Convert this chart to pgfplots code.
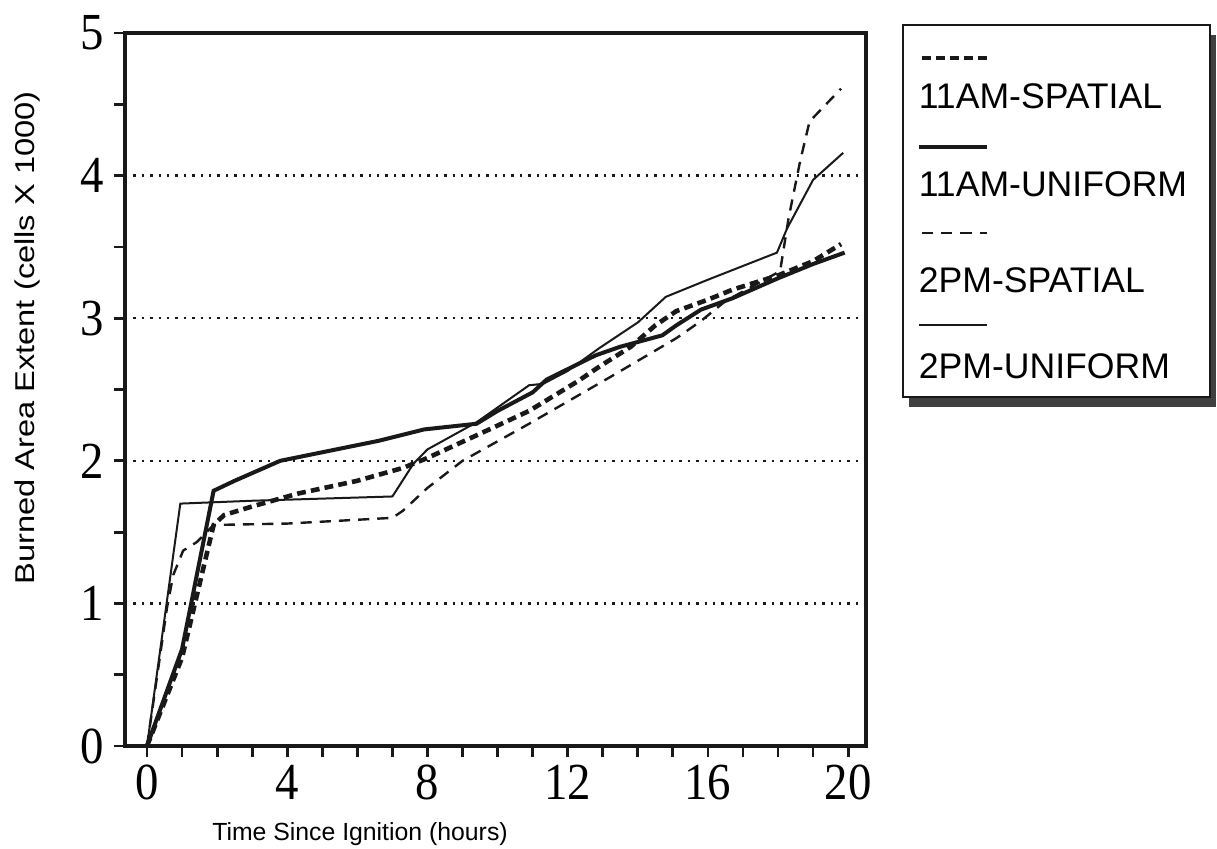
\documentclass[border=0pt]{standalone}
\usepackage{fontspec}
\usepackage{pgfplots}
\pgfplotsset{compat=1.18}
\setmainfont{Liberation Serif}
\newfontfamily\tickfont[FakeStretch=0.9]{Liberation Serif}
\newfontfamily\arial{Liberation Sans}
\newfontfamily\ylabfont[FakeStretch=1.2]{Liberation Sans}

\begin{document}
\begin{tikzpicture}
\begin{axis}[
    scale only axis,
    width=185.25pt, height=178.25pt,
    xmin=-0.628, xmax=20.51, ymin=0, ymax=5,
    axis line style={line width=0.8pt, black!90},
    xtick={0,4,...,20},
    minor xtick={1,2,3,5,6,7,9,10,11,13,14,15,17,18,19},
    ytick={0,...,5},
    minor ytick={0.5,1.5,...,4.5},
    tick align=outside, tick pos=left,
    major tick length=2.75pt, minor tick length=2.75pt,
    tick style={line width=0.7pt, black!90},
    ymajorgrids,
    grid style={black!90, line width=0.6pt, dash pattern=on 0.6pt off 1.5pt},
    /pgf/number format/assume math mode=true,
    ticklabel style={font=\tickfont\fontsize{13}{13}\selectfont},
    xticklabel style={yshift=1.5pt},
    yticklabel style={xshift=1pt},
]

% 11AM-SPATIAL
\addplot[black!90, line width=1.15pt, dash pattern=on 2.2pt off 1.3pt] coordinates {
    (0,0) (1,0.62) (1.9,1.55) (2.2,1.62) (3,1.68) (4.3,1.77) (6,1.86)
    (7.3,1.95) (8,2.02) (9.5,2.19) (10.9,2.35) (12.3,2.56) (12.9,2.66)
    (13.8,2.8) (14.5,2.95) (15.1,3.05) (16,3.13) (16.7,3.2) (18,3.3)
    (19,3.4) (19.8,3.52)
};

% 11AM-UNIFORM
\addplot[black!90, line width=1.0pt] coordinates {
    (0,0) (1,0.68) (1.9,1.79) (2.5,1.86) (3.8,2.0) (5,2.06) (6.6,2.14)
    (7.9,2.22) (9.4,2.26) (10,2.35) (11,2.48) (11.4,2.57) (12.8,2.74)
    (13.5,2.8) (14.7,2.88) (15.1,2.95) (15.8,3.06) (16.7,3.14) (18,3.28)
    (19,3.38) (19.9,3.46)
};

% 2PM-SPATIAL
\addplot[black!90, line width=0.6pt, dash pattern=on 2.8pt off 2pt] coordinates {
    (0,0) (0.57,0.97) (0.75,1.2) (1.03,1.37) (1.42,1.43) (1.9,1.55)
    (4,1.56) (7,1.6) (7.3,1.65) (8,1.81) (9,2.0) (10.9,2.26) (13.3,2.6)
    (15.1,2.86) (15.8,2.98) (16.5,3.12) (18.06,3.33) (18.3,3.7)
    (18.63,4.1) (18.9,4.38) (19.8,4.61)
};

% 2PM-UNIFORM
\addplot[black!90, line width=0.5pt] coordinates {
    (0,0) (0.95,1.7) (3,1.72) (7,1.75) (7.6,1.98) (8,2.08) (9.4,2.27)
    (10.9,2.53) (11.3,2.54) (12,2.63) (12.9,2.79) (14,2.97) (14.8,3.15)
    (16,3.27) (17.97,3.46) (18.26,3.63) (19,3.97) (19.86,4.16)
};
\end{axis}

% axis labels
\node[anchor=base, font=\arial\fontsize{6.2}{6.2}\selectfont] at (58.75pt,-23.5pt)
    {Time Since Ignition (hours)};
\node[anchor=base, rotate=90, font=\ylabfont\fontsize{6.8}{6.8}\selectfont] at (-22.5pt,102pt)
    {Burned Area Extent (cells X 1000)};

% legend box with shadow
\fill[black!75] (196pt,84.75pt) rectangle (272.75pt,177.75pt);
\filldraw[fill=white, draw=black!90, line width=0.6pt] (194.5pt,87.25pt) rectangle (271.25pt,180.25pt);
\draw[black!90, line width=1.15pt, dash pattern=on 2.2pt off 1.3pt] (199.25pt,172pt) -- (215.5pt,172pt);
\draw[black!90, line width=1.0pt] (198.5pt,149.75pt) -- (215.5pt,149.75pt);
\draw[black!90, line width=0.6pt, dash pattern=on 2.8pt off 2pt] (199.25pt,128.25pt) -- (215.5pt,128.25pt);
\draw[black!90, line width=0.5pt] (198.5pt,105.25pt) -- (215.5pt,105.25pt);
\begin{scope}[every node/.style={anchor=west, inner sep=0pt, font=\arial\fontsize{8.9}{8.9}\selectfont}]
\node at (198.25pt,162.5pt) {11AM-SPATIAL};
\node at (198.25pt,140.5pt) {11AM-UNIFORM};
\node at (198.25pt,116.5pt) {2PM-SPATIAL};
\node at (198.25pt,95pt) {2PM-UNIFORM};
\end{scope}

\pgfresetboundingbox
\path[use as bounding box] (-31.25pt,-25.5pt) rectangle (273pt,186.5pt);
\end{tikzpicture}
\end{document}
